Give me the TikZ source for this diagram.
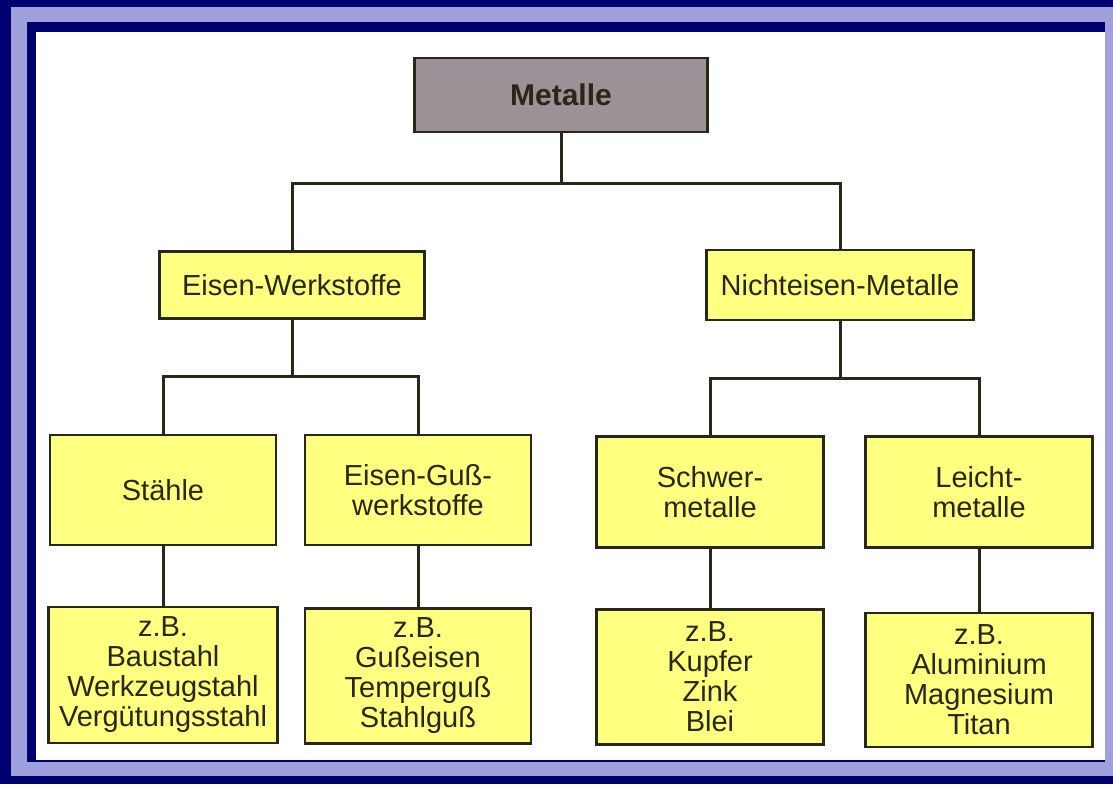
\documentclass[tikz,border=0pt]{standalone}
\usepackage{fontspec}
\setmainfont{Liberation Sans}

\definecolor{navy}{RGB}{0,0,112}
\definecolor{frame}{RGB}{160,160,220}
\definecolor{boxyellow}{RGB}{255,255,128}
\definecolor{boxgray}{RGB}{155,145,150}
\definecolor{ink}{RGB}{40,40,25}

\tikzset{
  yellow box/.style={draw=ink, line width=2.5pt, fill=boxyellow, text=ink,
    align=center, inner sep=0pt,
    font=\fontsize{29}{30}\selectfont},
  top box/.style={yellow box, fill=boxgray, font=\fontsize{30}{31}\selectfont\bfseries},
  tree line/.style={draw=ink, line width=3pt}
}

\begin{document}
\begin{tikzpicture}[x=1pt, y=-1pt]
  \useasboundingbox (0,0) rectangle (1113,784);
  % frame
  \fill[navy] (0,0) rectangle (1113,784);
  \fill[frame] (11,7) rectangle (1113,776);
  \fill[navy] (27,22) rectangle (1105,762);
  \fill[white] (36,32) rectangle (1105,760);

  % boxes
  \node[top box, minimum width=293pt, minimum height=74pt] (metalle) at (561,95) {Metalle};
  \node[yellow box, minimum width=265pt, minimum height=67pt] (eisen) at (292,285) {Eisen-Werkstoffe};
  \node[yellow box, minimum width=267pt, minimum height=70pt] (nichteisen) at (840,285) {Nichteisen-Metalle};

  \node[yellow box, minimum width=226pt, minimum height=110pt] (staehle) at (163,490) {St\"ahle};
  \node[yellow box, minimum width=226pt, minimum height=110pt] (guss) at (418,490) {Eisen-Gu\ss-\\werkstoffe};
  \node[yellow box, minimum width=227pt, minimum height=111pt] (schwer) at (710,492) {Schwer-\\metalle};
  \node[yellow box, minimum width=227pt, minimum height=111pt] (leicht) at (979,492) {Leicht-\\metalle};

  \node[yellow box, minimum width=229pt, minimum height=136pt] (staehlebsp) at (163,675) {z.B.\\Baustahl\\Werkzeugstahl\\Verg\"utungsstahl};
  \node[yellow box, minimum width=226pt, minimum height=135pt] (gussbsp) at (418,676) {z.B.\\Gu\ss eisen\\Tempergu\ss\\Stahlgu\ss};
  \node[yellow box, minimum width=227pt, minimum height=135pt] (schwerbsp) at (710,677) {z.B.\\Kupfer\\Zink\\Blei};
  \node[yellow box, minimum width=227pt, minimum height=134pt] (leichtbsp) at (979,680) {z.B.\\Aluminium\\Magnesium\\Titan};

  % junctions
  \coordinate (j top) at (561,183);
  \coordinate (j left) at (292,376);
  \coordinate (j right) at (840,378);

  \draw[tree line] (metalle.south) -- (j top);
  \draw[tree line] (eisen.north) |- (j top) -| (nichteisen.north);
  \draw[tree line] (eisen.south) -- (j left);
  \draw[tree line] (staehle.north) |- (j left) -| (guss.north);
  \draw[tree line] (nichteisen.south) -- (j right);
  \draw[tree line] (schwer.north) |- (j right) -| (leicht.north);
  \draw[tree line] (staehle.south) -- (staehlebsp.north);
  \draw[tree line] (guss.south) -- (gussbsp.north);
  \draw[tree line] (schwer.south) -- (schwerbsp.north);
  \draw[tree line] (leicht.south) -- (leichtbsp.north);
\end{tikzpicture}
\end{document}
